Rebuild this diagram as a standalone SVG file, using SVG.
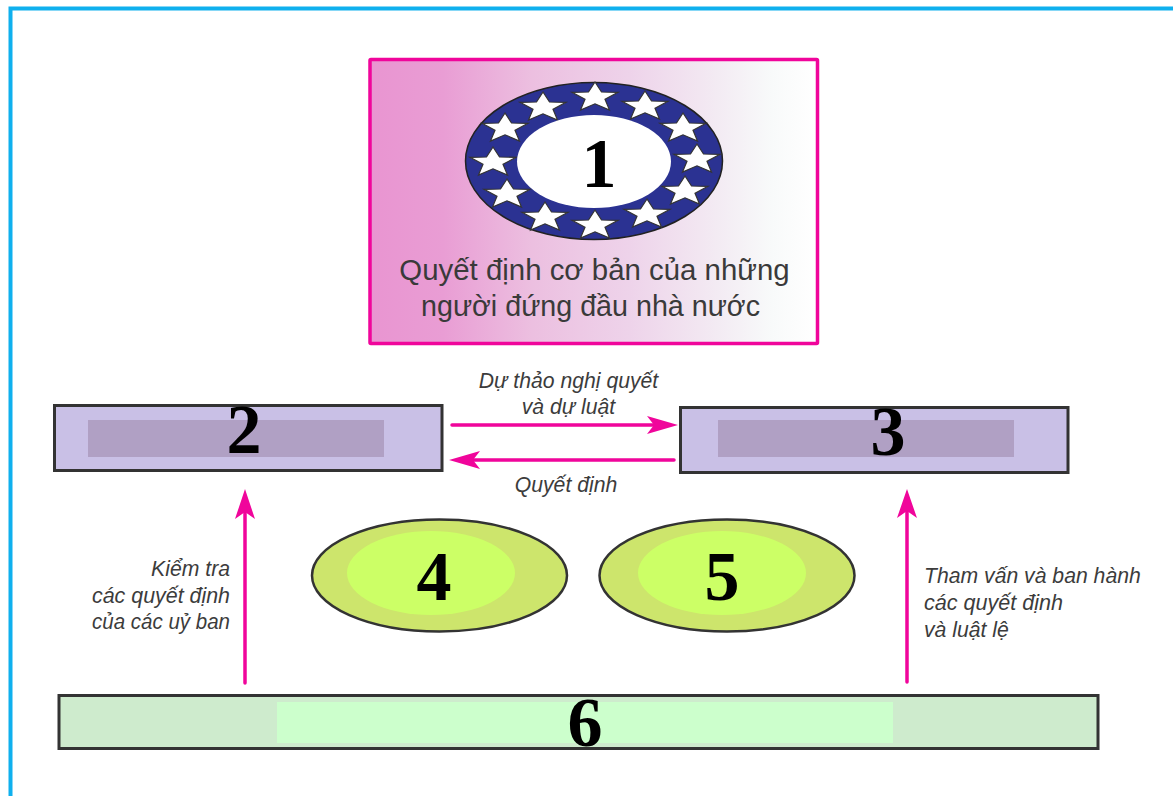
<svg xmlns="http://www.w3.org/2000/svg" width="1173" height="796" viewBox="0 0 1173 796">
<style>
.num{font-family:"Liberation Serif",serif;font-weight:bold;font-size:70px;fill:#000;text-anchor:middle}
.cap{font-family:"Liberation Sans",sans-serif;font-size:29.4px;fill:#3a3a3a;text-anchor:middle}
.lab{font-family:"Liberation Sans",sans-serif;font-style:italic;font-size:21.2px;fill:#3c3c3c}
.box{stroke:#333;stroke-width:3}
.oval{stroke:#333;stroke-width:2.5;fill:#cde56c}
.inner{fill:#ccff66}
.conn{fill:none;stroke:#f0059b;stroke-width:3.5;stroke-linecap:round}
.head{fill:#f0059b}
.star{fill:#fff;stroke:#333;stroke-width:1.2}
</style>
<defs>
<linearGradient id="g1" gradientUnits="userSpaceOnUse" x1="372" y1="0" x2="816" y2="0">
<stop offset="0" stop-color="#e995d1"/>
<stop offset="0.16" stop-color="#e99dd4"/>
<stop offset="0.36" stop-color="#ecbfe0"/>
<stop offset="0.58" stop-color="#eed3ea"/>
<stop offset="0.78" stop-color="#f3ebf3"/>
<stop offset="0.9" stop-color="#f8fafa"/>
<stop offset="1" stop-color="#ffffff"/>
</linearGradient>
<polygon id="s" class="star" points="0,-15 6.500,-5 23,-4.600 10,2.300 14.500,13 0,6.800 -14.500,13 -10,2.300 -23,-4.600 -6.500,-5"/>
</defs>
<path id="frame" d="M1173 8.500H10.500V796" fill="none" stroke="#0fb0ee" stroke-width="4"/>

<g id="node1">
<rect x="370" y="59.500" width="447.500" height="284" fill="url(#g1)" stroke="#f0059b" stroke-width="3.500" rx="1"/>
<ellipse cx="594" cy="161" rx="128.500" ry="78.500" fill="#2b3292" stroke="#222" stroke-width="1.500"/>
<use href="#s" x="595" y="97"/><use href="#s" x="543" y="107"/><use href="#s" x="645" y="106"/>
<use href="#s" x="505" y="128"/><use href="#s" x="683" y="128"/><use href="#s" x="493" y="162"/>
<use href="#s" x="697" y="159"/><use href="#s" x="507" y="194"/><use href="#s" x="685" y="191"/>
<use href="#s" x="545" y="217"/><use href="#s" x="647" y="214"/><use href="#s" x="595" y="225"/>
<ellipse cx="594" cy="161.500" rx="77" ry="46.500" fill="#fff"/>
<text class="num" x="599" y="187">1</text>
<text class="cap" x="594.500" y="280">Quyết định cơ bản của những</text>
<text class="cap" x="590.500" y="316" textLength="339" lengthAdjust="spacingAndGlyphs">người đứng đầu nhà nước</text>
</g>

<g id="node2">
<rect class="box" x="54.500" y="405.500" width="387.500" height="65" fill="#c9c0e6"/>
<rect x="88" y="420" width="296" height="37" fill="#b0a0c4"/>
<text class="num" x="244" y="453">2</text>
</g>

<g id="node3">
<rect class="box" x="680.500" y="407.500" width="387.500" height="65" fill="#c9c0e6"/>
<rect x="718" y="420" width="296" height="37" fill="#b0a0c4"/>
<text class="num" x="888" y="455">3</text>
</g>

<g id="node4">
<ellipse class="oval" cx="439.500" cy="575.500" rx="127.500" ry="56"/>
<ellipse class="inner" cx="431" cy="573" rx="84" ry="42"/>
<text class="num" x="434" y="600">4</text>
</g>

<g id="node5">
<ellipse class="oval" cx="727" cy="575.500" rx="127.500" ry="56"/>
<ellipse class="inner" cx="722" cy="573" rx="84" ry="42"/>
<text class="num" x="722" y="600">5</text>
</g>

<g id="node6">
<rect class="box" x="59" y="695.500" width="1039" height="53" fill="#ceebcd"/>
<rect x="277" y="702" width="616" height="41" fill="#ccffcc"/>
<text class="num" x="585" y="746">6</text>
</g>

<g id="connectors">
<path class="conn" d="M452 425H660"/>
<polygon class="head" points="678,425 647,416 654,425 647,434"/>
<path class="conn" d="M674 460H470"/>
<polygon class="head" points="449,460 480,451 473,460 480,469"/>
<path class="conn" d="M245 683V510"/>
<polygon class="head" points="245,489 235,519 245,512 255,519"/>
<path class="conn" d="M907 682V510"/>
<polygon class="head" points="907,489 897,518 907,511 917,518"/>
</g>

<g id="labels">
<text class="lab" x="568.500" y="388" text-anchor="middle">Dự thảo nghị quyết</text>
<text class="lab" x="568.500" y="414" text-anchor="middle">và dự luật</text>
<text class="lab" x="566" y="492" text-anchor="middle">Quyết định</text>
<text class="lab" x="230" y="576" text-anchor="end">Kiểm tra</text>
<text class="lab" x="92" y="603" textLength="138" lengthAdjust="spacingAndGlyphs">các quyết định</text>
<text class="lab" x="92" y="629" textLength="138" lengthAdjust="spacingAndGlyphs">của các uỷ ban</text>
<text class="lab" x="924" y="583">Tham vấn và ban hành</text>
<text class="lab" x="924" y="610" textLength="139" lengthAdjust="spacingAndGlyphs">các quyết định</text>
<text class="lab" x="924" y="637">và luật lệ</text>
</g>
</svg>
